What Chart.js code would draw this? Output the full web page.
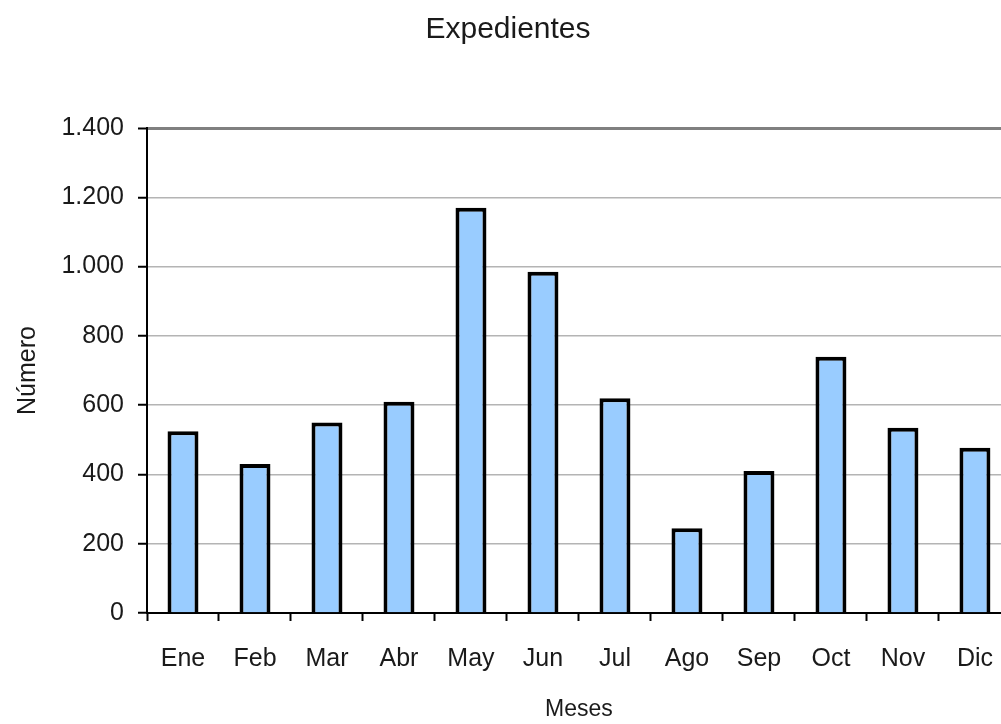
<!DOCTYPE html>
<html>
<head>
<meta charset="utf-8">
<title>Expedientes</title>
<script src="https://cdn.jsdelivr.net/npm/chart.js@4/dist/chart.umd.min.js"></script>
<style>
	html, body { margin: 0; padding: 0; background: #fff; overflow: hidden; }
	#wrap { width: 1016px; height: 724px; }
</style>
</head>
<body>
<div id="wrap"><canvas id="canvas01" width="1016" height="724"></canvas></div>
<script>
var meses = ['Ene', 'Feb', 'Mar', 'Abr', 'May', 'Jun', 'Jul', 'Ago', 'Sep', 'Oct', 'Nov', 'Dic'];
var expedientes = [525, 430, 550, 610, 1170, 985, 620, 245, 410, 740, 535, 477];
var yTicks = [0, 200, 400, 600, 800, 1000, 1200, 1400];

var FONT = "'Liberation Sans', Arial, sans-serif";

function fmtMiles(v) {
	//1400 -> 1.400
	return String(v).replace(/\B(?=(\d{3})+(?!\d))/g, '.');
}

function mainFunc() {
	var ctx = document.getElementById('canvas01');
	var chart = new Chart(ctx, {
		type: 'bar',
		data: {
			labels: meses,
			datasets: [{
				label: 'Expedientes',
				data: expedientes,
				backgroundColor: '#99ccff',
				borderColor: '#000000',
				borderWidth: 4,
				borderSkipped: 'bottom',
				barPercentage: 0.43,
				categoryPercentage: 1.0
			}]
		},
		options: {
			responsive: false,
			animation: false,
			devicePixelRatio: 1,
			layout: { padding: 0 },
			plugins: {
				legend: { display: false },
				tooltip: { enabled: false },
				title: {
					display: true,
					text: 'Expedientes',
					color: '#1a1a1a',
					font: { family: FONT, size: 30, weight: 'normal', lineHeight: 1.2 },
					padding: { top: 12, bottom: 80 }
				}
			},
			scales: {
				x: {
					offset: true,
					afterFit: function(scale) {
						//fixed height so the axis line sits where the original has it
						scale.height = 111;
					},
					grid: {
						offset: true,
						drawOnChartArea: false,
						drawTicks: true,
						tickLength: 8,
						tickColor: '#000000',
						tickWidth: 2
					},
					border: { display: true, color: '#000000', width: 2 },
					ticks: {
						color: '#1a1a1a',
						padding: 23,
						font: { family: FONT, size: 25 }
					},
					title: {
						display: true,
						text: 'Meses',
						color: '#1a1a1a',
						font: { family: FONT, size: 23, lineHeight: 1.2 },
						padding: { top: 16, bottom: 1 }
					}
				},
				y: {
					min: 0,
					max: 1400,
					afterBuildTicks: function(scale) {
						scale.ticks = yTicks.map(function(v) { return { value: v }; });
					},
					afterFit: function(scale) {
						scale.width = 147;
					},
					grid: {
						color: function(c) {
							if (c.tick && c.tick.value === 1400) {
								return '#808080';
							}
							return '#b4b4b4';
						},
						lineWidth: function(c) {
							return (c.tick && c.tick.value === 1400) ? 3 : 1.5;
						},
						tickLength: 9,
						tickColor: '#000000',
						tickWidth: 2
					},
					border: { display: true, color: '#000000', width: 2 },
					ticks: {
						color: '#1a1a1a',
						padding: 14,
						font: { family: FONT, size: 25 },
						callback: function(v) { return fmtMiles(v); }
					},
					title: {
						display: true,
						text: 'Número',
						color: '#1a1a1a',
						font: { family: FONT, size: 25, lineHeight: 1.2 },
						padding: { top: 13, bottom: 0 }
					}
				}
			}
		}
	});
}

window.onload = mainFunc;
</script>
</body>
</html>
